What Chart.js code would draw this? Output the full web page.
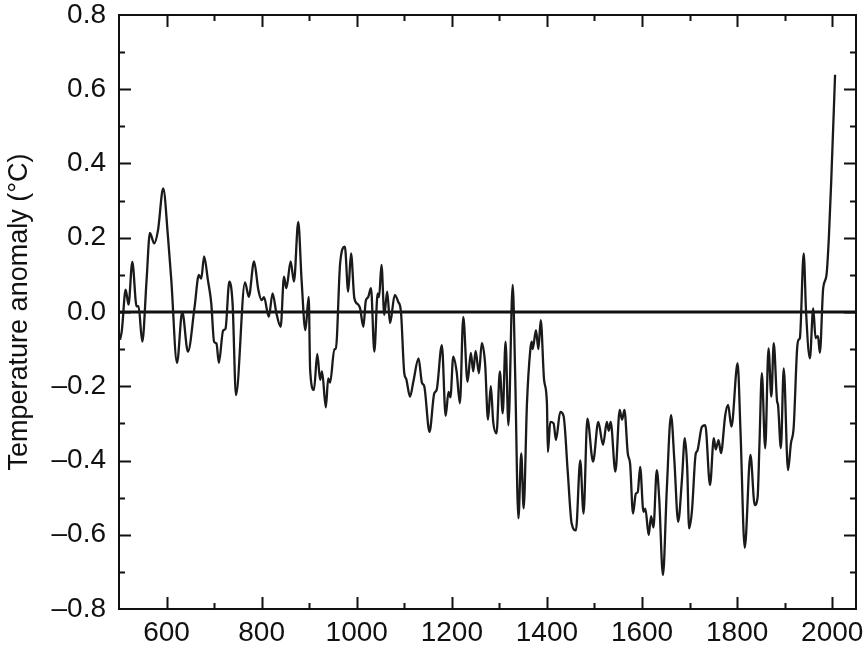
<!DOCTYPE html>
<html lang="en">
<head>
    <meta charset="UTF-8">
    <title>Temperature anomaly</title>
    <script src="https://cdn.jsdelivr.net/npm/chart.js"></script>
    <style>
        body {
            margin: 0;
            padding: 0;
            background-color: #ffffff;
        }
        #chart-box {
            width: 864px;
            height: 650px;
        }
    </style>
</head>
<body>
    <div id="chart-box">
        <canvas id="anomaly-chart" width="864" height="650"></canvas>
    </div>

    <script>
        // values
        const years = [
            502, 506, 514, 520, 528, 537, 541, 549, 558, 565, 574, 582, 593, 603, 610, 622, 633, 645, 659, 668,
            673, 679, 687, 694, 700, 705, 710, 719, 724, 732, 739, 746, 765, 773, 784, 793, 800, 805, 815, 823,
            831, 840, 847, 852, 861, 868, 877, 884, 892, 899, 902, 910, 917, 923, 927, 935, 940, 944, 953, 956,
            965, 975, 982, 988, 995, 1003, 1007, 1014, 1019, 1024, 1030, 1037, 1044, 1047, 1052, 1058, 1064, 1070, 1080, 1087,
            1093, 1100, 1104, 1112, 1119, 1130, 1137, 1142, 1153, 1163, 1168, 1179, 1187, 1193, 1197, 1203, 1210, 1217, 1224, 1233,
            1240, 1245, 1250, 1257, 1263, 1270, 1276, 1282, 1287, 1294, 1301, 1307, 1313, 1319, 1328, 1333, 1340, 1346, 1351, 1358,
            1365, 1368, 1370, 1377, 1382, 1387, 1394, 1400, 1402, 1407, 1414, 1419, 1428, 1435, 1444, 1452, 1461, 1470, 1477, 1485,
            1497, 1508, 1518, 1526, 1530, 1534, 1544, 1553, 1558, 1563, 1570, 1575, 1581, 1587, 1591, 1596, 1603, 1607, 1614, 1619,
            1624, 1631, 1636, 1644, 1652, 1661, 1668, 1676, 1684, 1690, 1695, 1699, 1705, 1713, 1716, 1726, 1733, 1743, 1751, 1755,
            1761, 1766, 1775, 1781, 1788, 1801, 1807, 1816, 1828, 1837, 1843, 1847, 1852, 1859, 1866, 1872, 1877, 1884, 1886, 1892,
            1898, 1907, 1913, 1919, 1926, 1929, 1932, 1940, 1945, 1953, 1960, 1965, 1970, 1974, 1981, 1988, 1993, 1998, 2006
        ];
        const anomaly = [
            -0.075, -0.05, 0.06, 0.02, 0.135, 0.015, 0.016, -0.08, 0.086, 0.213, 0.185, 0.22, 0.333, 0.203, 0.086, -0.137, 0.0, -0.107, 0.014, 0.10,
            0.09, 0.15, 0.086, 0.024, -0.08, -0.085, -0.137, -0.05, -0.045, 0.082, 0.02, -0.224, 0.08, 0.041, 0.136, 0.06, 0.032, 0.04, -0.013, 0.05,
            -0.003, -0.04, 0.095, 0.064, 0.136, 0.082, 0.243, 0.086, -0.049, 0.041, -0.156, -0.21, -0.113, -0.183, -0.16, -0.257, -0.179, -0.19, -0.10, -0.10,
            0.13, 0.176, 0.055, 0.158, 0.037, 0.02, 0.01, -0.04, 0.03, 0.04, 0.064, -0.107, 0.05, 0.04, 0.127, -0.008, 0.055, -0.03, 0.046, 0.028,
            0.0, -0.165, -0.18, -0.228, -0.188, -0.125, -0.19, -0.20, -0.323, -0.219, -0.21, -0.089, -0.28, -0.215, -0.23, -0.12, -0.16, -0.246, -0.013, -0.188,
            -0.11, -0.16, -0.105, -0.165, -0.084, -0.14, -0.29, -0.20, -0.296, -0.327, -0.16, -0.273, -0.08, -0.305, 0.073, -0.156, -0.556, -0.381, -0.529, -0.246,
            -0.102, -0.08, -0.10, -0.049, -0.10, -0.022, -0.183, -0.246, -0.377, -0.296, -0.30, -0.345, -0.269, -0.28, -0.435, -0.57, -0.588, -0.40, -0.543, -0.287,
            -0.403, -0.296, -0.358, -0.296, -0.32, -0.296, -0.43, -0.264, -0.29, -0.264, -0.381, -0.41, -0.543, -0.489, -0.485, -0.417, -0.538, -0.53, -0.601, -0.55,
            -0.58, -0.426, -0.50, -0.709, -0.48, -0.278, -0.40, -0.565, -0.45, -0.34, -0.42, -0.583, -0.535, -0.381, -0.375, -0.309, -0.305, -0.466, -0.34, -0.37,
            -0.345, -0.38, -0.278, -0.25, -0.309, -0.138, -0.318, -0.635, -0.385, -0.52, -0.50, -0.354, -0.165, -0.367, -0.098, -0.228, -0.084, -0.24, -0.25, -0.367,
            -0.152, -0.426, -0.355, -0.309, -0.102, -0.075, -0.07, 0.158, 0.0, -0.125, 0.01, -0.07, -0.065, -0.11, 0.064, 0.10, 0.203, 0.356, 0.639
        ];
        // tick positions (every 100 yr / 0.1 °C) and which of them carry a label
        const xTicks = [600, 700, 800, 900, 1000, 1100, 1200, 1300, 1400, 1500, 1600, 1700, 1800, 1900, 2000];
        const xLabels = [600, 800, 1000, 1200, 1400, 1600, 1800, 2000];
        const yTicks = [-0.8, -0.7, -0.6, -0.5, -0.4, -0.3, -0.2, -0.1, 0.0, 0.1, 0.2, 0.3, 0.4, 0.5, 0.6, 0.7, 0.8];
        const yLabels = [-0.8, -0.6, -0.4, -0.2, 0.0, 0.2, 0.4, 0.6, 0.8];

        const fontFamily = "'Liberation Sans', Arial, Helvetica, sans-serif";
        const tenths = v => Math.round(v * 10);

        // box frame, zero line and inward ticks on all four sides
        const framePlugin = {
            id: 'frame',
            beforeDatasetsDraw(chart) {
                const ctx = chart.ctx;
                const area = chart.chartArea;
                const y0 = chart.scales.y.getPixelForValue(0);
                ctx.save();
                ctx.strokeStyle = '#111';
                ctx.lineWidth = 3;
                ctx.beginPath();
                ctx.moveTo(area.left, y0);
                ctx.lineTo(area.right, y0);
                ctx.stroke();
                ctx.restore();
            },
            afterDraw(chart) {
                const ctx = chart.ctx;
                const area = chart.chartArea;
                const xs = chart.scales.x;
                const ys = chart.scales.y;
                ctx.save();
                ctx.strokeStyle = '#111';
                ctx.lineWidth = 2;
                ctx.strokeRect(area.left, area.top, area.right - area.left, area.bottom - area.top);

                ctx.beginPath();
                xs.ticks.forEach(t => {
                    const v = t.value;
                    if (v <= xs.min || v >= xs.max) return;
                    const len = xLabels.includes(v) ? 12 : 6;
                    const px = Math.round(xs.getPixelForValue(v)) + 0.5;
                    ctx.moveTo(px, area.bottom);
                    ctx.lineTo(px, area.bottom - len);
                    ctx.moveTo(px, area.top);
                    ctx.lineTo(px, area.top + len);
                });
                ys.ticks.forEach(t => {
                    const k = tenths(t.value);
                    if (k <= -8 || k >= 8) return;
                    const len = yLabels.some(l => tenths(l) === k) ? 12 : 6;
                    const py = Math.round(ys.getPixelForValue(t.value)) + 0.5;
                    ctx.moveTo(area.left, py);
                    ctx.lineTo(area.left + len, py);
                    ctx.moveTo(area.right, py);
                    ctx.lineTo(area.right - len, py);
                });
                ctx.stroke();
                ctx.restore();
            }
        };

        const ctx = document.getElementById('anomaly-chart').getContext('2d');
        new Chart(ctx, {
            type: 'line',
            data: {
                datasets: [{
                    data: years.map((yr, i) => ({ x: yr, y: anomaly[i] })),
                    borderColor: '#1a1a1a',
                    borderWidth: 2.3,
                    pointRadius: 0,
                    fill: false,
                    cubicInterpolationMode: 'monotone'
                }]
            },
            options: {
                responsive: false,
                animation: false,
                layout: {
                    padding: { top: 15, right: 8, left: 0, bottom: 0 }
                },
                plugins: {
                    legend: { display: false },
                    tooltip: { enabled: false }
                },
                scales: {
                    x: {
                        type: 'linear',
                        min: 500,
                        max: 2050,
                        grid: { display: false, drawTicks: false },
                        border: { display: false },
                        afterBuildTicks: scale => {
                            scale.ticks = xTicks.map(v => ({ value: v }));
                        },
                        ticks: {
                            autoSkip: false,
                            maxRotation: 0,
                            padding: 7,
                            color: '#111',
                            font: { family: fontFamily, size: 28 },
                            callback: value => xLabels.includes(value) ? String(value) : ''
                        },
                        afterFit: scale => {
                            scale.height = 41;
                            scale.paddingLeft = 0;
                            scale.paddingRight = 0;
                        }
                    },
                    y: {
                        min: -0.8,
                        max: 0.8,
                        grid: { display: false, drawTicks: false },
                        border: { display: false },
                        afterBuildTicks: scale => {
                            scale.ticks = yTicks.map(v => ({ value: v }));
                        },
                        ticks: {
                            autoSkip: false,
                            padding: 13,
                            color: '#111',
                            font: { family: fontFamily, size: 28 },
                            callback: value => {
                                const k = tenths(value);
                                if (!yLabels.some(l => tenths(l) === k)) return '';
                                const s = Math.abs(k / 10).toFixed(1);
                                return k < 0 ? '\u2013' + s : s;
                            }
                        },
                        title: {
                            display: true,
                            text: 'Temperature anomaly (\u00B0C)',
                            color: '#111',
                            padding: { top: 3, bottom: 0 },
                            font: { family: fontFamily, size: 27 }
                        },
                        afterFit: scale => {
                            scale.width = 119;
                            scale.paddingTop = 0;
                            scale.paddingBottom = 0;
                        }
                    }
                }
            },
            plugins: [framePlugin]
        });
    </script>
</body>
</html>
